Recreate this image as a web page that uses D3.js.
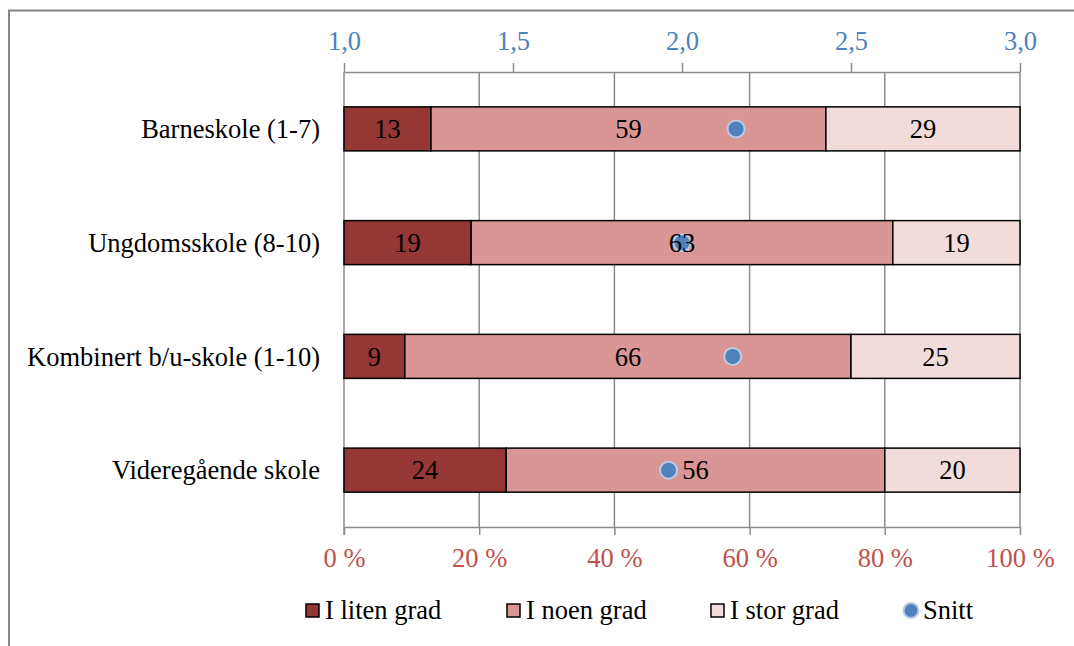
<!DOCTYPE html>
<html>
<head>
<meta charset="utf-8">
<script src="https://cdn.jsdelivr.net/npm/d3@7"></script>
<style>
  html, body { margin: 0; padding: 0; background: #fff; }
  svg { display: block; font-family: "Liberation Serif", "Times New Roman", serif; }
</style>
</head>
<body>
<svg id="chart" width="1074" height="646"></svg>
<script>
// Data
const categories = ["Barneskole (1-7)", "Ungdomsskole (8-10)", "Kombinert b/u-skole (1-10)", "Videregående skole"];
const seriesNames = ["I liten grad", "I noen grad", "I stor grad"];
const litenGrad = [13, 19, 9, 24];
const noenGrad = [59, 63, 66, 56];
const storGrad = [29, 19, 25, 20];
const snitt = [2.16, 2.0, 2.15, 1.96];
const snittName = "Snitt";
const percentTicks = [0, 0.2, 0.4, 0.6, 0.8, 1.0];
const meanTicks = [1.0, 1.5, 2.0, 2.5, 3.0];

const colors = ["#953735", "#D99694", "#F2DCDB"];
const snittColor = "#4F81BD";
const FS = 26.5;

const svg = d3.select("#chart");
const W = 1074, H = 646;

// Outer frame
svg.append("path")
  .attr("d", `M9,${H} L9,10.5 L${W},10.5`)
  .attr("fill", "none").attr("stroke", "#868686").attr("stroke-width", 2);

const plotLeft = 344, plotRight = 1020, plotTop = 72, plotBottom = 527;

const x = d3.scaleLinear().domain([0, 1]).range([plotLeft, plotRight]);
const xMean = d3.scaleLinear().domain([1, 3]).range([plotLeft, plotRight]);
const y = d3.scaleBand().domain(categories).range([plotTop, plotBottom]).paddingInner(0.613).paddingOuter(0.3065);

// Stack data
const rows = categories.map((c, i) => ({
  cat: c,
  [seriesNames[0]]: litenGrad[i],
  [seriesNames[1]]: noenGrad[i],
  [seriesNames[2]]: storGrad[i]
}));
const stacked = d3.stack().keys(seriesNames).offset(d3.stackOffsetExpand)(rows);

// Gridlines
svg.append("g").selectAll("line")
  .data(percentTicks.slice(1))
  .join("line")
  .attr("x1", d => x(d)).attr("x2", d => x(d))
  .attr("y1", plotTop).attr("y2", plotBottom)
  .attr("stroke", "#8c8c8c").attr("stroke-width", 1.5);

// Bottom axis
const xAxis = svg.append("g")
  .attr("transform", `translate(0,${plotBottom})`)
  .call(d3.axisBottom(x).tickValues(percentTicks).tickSize(8).tickSizeOuter(0)
    .tickFormat(d => Math.round(d * 100) + " %"));
xAxis.select(".domain").attr("stroke", "#8c8c8c").attr("stroke-width", 1.5);
xAxis.selectAll(".tick line").attr("stroke", "#8c8c8c").attr("stroke-width", 1.5);
xAxis.selectAll(".tick text")
  .attr("fill", "#C0504D").attr("font-size", FS).attr("dy", 0).attr("y", 40)
  .attr("font-family", "Liberation Serif, Times New Roman, serif");

// Top axis
const xTop = svg.append("g")
  .attr("transform", `translate(0,${plotTop})`)
  .call(d3.axisTop(xMean).tickValues(meanTicks).tickSize(9).tickSizeOuter(0)
    .tickFormat(d => d3.format(".1f")(d).replace(".", ",")));
xTop.select(".domain").attr("stroke", "#8c8c8c").attr("stroke-width", 1.5);
xTop.selectAll(".tick line").attr("stroke", "#8c8c8c").attr("stroke-width", 1.5);
xTop.selectAll(".tick text")
  .attr("fill", "#4F81BD").attr("font-size", FS).attr("dy", 0).attr("y", -22)
  .attr("font-family", "Liberation Serif, Times New Roman, serif");

// Left axis line
svg.append("line")
  .attr("x1", plotLeft).attr("x2", plotLeft).attr("y1", plotTop).attr("y2", plotBottom + 8)
  .attr("stroke", "#8c8c8c").attr("stroke-width", 1.5);

// Bars
const layers = svg.append("g").selectAll("g")
  .data(stacked)
  .join("g")
  .attr("fill", (d, i) => colors[i]);

layers.selectAll("rect")
  .data(d => d.map(p => ({ p, key: d.key })))
  .join("rect")
  .attr("x", d => x(d.p[0]))
  .attr("width", d => x(d.p[1]) - x(d.p[0]))
  .attr("y", d => y(d.p.data.cat))
  .attr("height", y.bandwidth())
  .attr("stroke", "#000").attr("stroke-width", 1.5);

// Category labels
svg.append("g").selectAll("text")
  .data(categories)
  .join("text")
  .attr("x", 320)
  .attr("y", d => y(d) + y.bandwidth() / 2)
  .attr("dy", "0.35em")
  .attr("text-anchor", "end")
  .attr("font-size", FS)
  .attr("fill", "#000")
  .text(d => d);

// Snitt markers
svg.append("g").selectAll("circle")
  .data(categories)
  .join("circle")
  .attr("cx", (d, i) => xMean(snitt[i]))
  .attr("cy", d => y(d) + y.bandwidth() / 2)
  .attr("r", 8.5)
  .attr("fill", snittColor)
  .attr("stroke", "#B9CDE5").attr("stroke-width", 2);

// Value labels (drawn over the markers)
const labelGroups = svg.append("g").selectAll("g")
  .data(stacked)
  .join("g");
labelGroups.selectAll("text")
  .data(d => d.map(p => ({ p, key: d.key })))
  .join("text")
  .attr("x", d => (x(d.p[0]) + x(d.p[1])) / 2)
  .attr("y", d => y(d.p.data.cat) + y.bandwidth() / 2)
  .attr("dy", "0.35em")
  .attr("text-anchor", "middle")
  .attr("font-size", FS)
  .attr("fill", "#000")
  .text(d => d.p.data[d.key]);

// Legend
const legendY = 610;
const legendItems = [
  { name: seriesNames[0], x: 306, type: "rect", color: colors[0] },
  { name: seriesNames[1], x: 507, type: "rect", color: colors[1] },
  { name: seriesNames[2], x: 711, type: "rect", color: colors[2] },
  { name: snittName, x: 904, type: "circle", color: snittColor }
];
const lg = svg.append("g").selectAll("g").data(legendItems).join("g")
  .attr("transform", d => `translate(${d.x},${legendY})`);
lg.filter(d => d.type === "rect").append("rect")
  .attr("x", 0).attr("y", -6).attr("width", 13).attr("height", 13)
  .attr("fill", d => d.color).attr("stroke", "#000").attr("stroke-width", 1.5);
lg.filter(d => d.type === "circle").append("circle")
  .attr("cx", 7).attr("cy", 0.5).attr("r", 7.5)
  .attr("fill", d => d.color).attr("stroke", "#B9CDE5").attr("stroke-width", 2);
lg.append("text")
  .attr("x", 19).attr("y", 0).attr("dy", "0.35em")
  .attr("font-size", FS).attr("fill", "#000")
  .text(d => d.name);
</script>
</body>
</html>
